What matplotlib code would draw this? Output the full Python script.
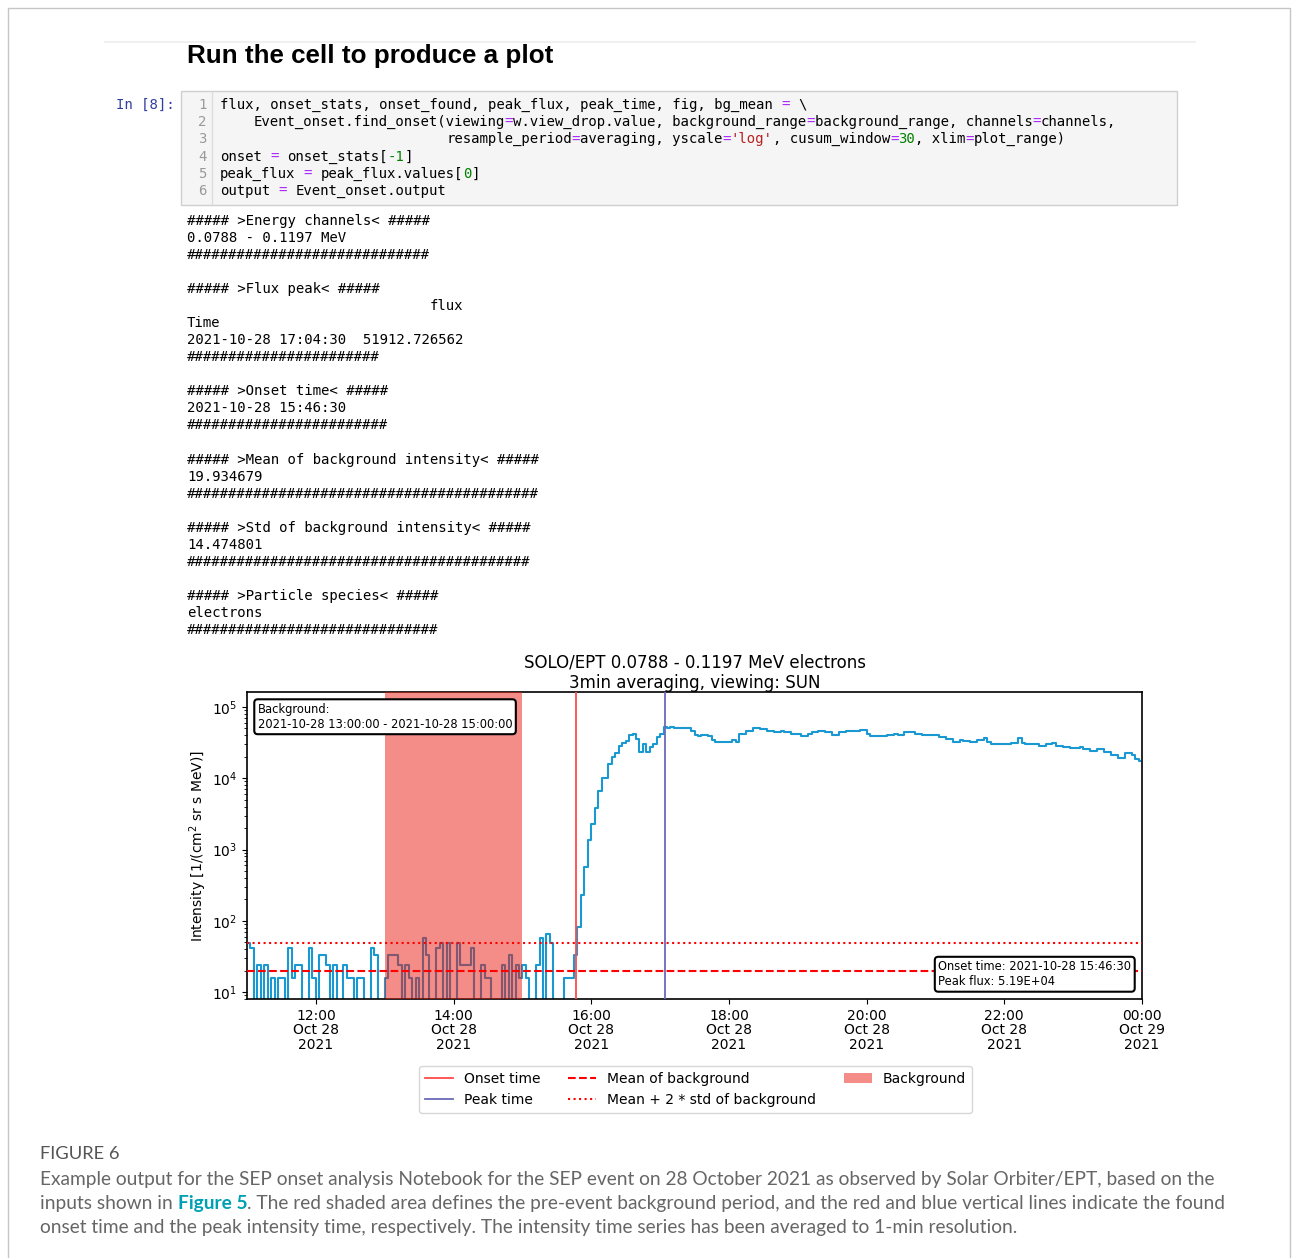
import matplotlib
matplotlib.use('Agg')
import matplotlib.pyplot as plt
import matplotlib.dates as mdates
from matplotlib.lines import Line2D
from matplotlib.patches import Patch, Rectangle
from matplotlib import font_manager
import numpy as np

W, H = 1292, 1258

# 3-min averaged SOLO/EPT electron intensity
# first bin centred at 11:01:30, one value every 3 minutes up to 00:00
t_first = np.datetime64('2021-10-28T11:01:30')
pre_event = [49, 41, 0, 24, 0, 24, 0, 16, 0, 16,
             16, 0, 41, 16, 24, 24, 0, 0, 41, 16,
             0, 33, 33, 24, 0, 24, 0, 0, 24, 16,
             16, 0, 16, 16, 0, 0, 41, 33, 0, 0,
             16, 33, 33, 33, 24, 0, 24, 16, 0, 16,
             0, 57, 33, 0, 0, 41, 49, 0, 49, 0,
             0, 49, 24, 24, 24, 41, 0, 0, 24, 16,
             16, 0, 0, 0, 24, 0, 33, 0, 24, 16,
             24, 16, 0, 0, 24, 57, 0, 66, 49, 0,
             0, 0, 16, 16, 16, 33]
rise = [82, 229, 571, 1350, 2270, 3850, 6600, 10100, 10100, 15800,
        20000, 22800, 28000, 31500, 33500, 40000, 42000, 36000, 23400, 30000,
        23400, 27000, 30000, 38000, 42000, 51900]
decay = [51000, 51500, 51000, 50800, 50500, 50100, 50100, 45800,
         40500, 38500, 40000, 40400, 39400, 34700, 32300, 32000, 32000, 32000,
         32300, 34700, 32000, 41900, 41900, 45800, 45800, 49900, 49900, 48900,
         48900, 45800, 45800, 43900, 43900, 45800, 43900, 43900, 41900, 41900,
         41900, 39400, 39400, 41900, 44900, 44900, 45800, 45800, 43900, 43900,
         40400, 40400, 43900, 43900, 46300, 46300, 46300, 46300, 47400, 47400,
         41900, 39400, 39400, 39400, 39400, 39400, 40400, 40400, 41900, 40800,
         40800, 44900, 43900, 43900, 41900, 41900, 40800, 40800, 40400, 40400,
         40400, 38000, 38000, 35500, 35500, 32300, 32300, 34700, 33800, 33800,
         32300, 32300, 34700, 34700, 36800, 32300, 29800, 29800, 29800, 29800,
         30500, 30500, 31200, 31200, 36800, 31200, 29800, 29800, 29800, 29800,
         28700, 28700, 29800, 29800, 31200, 28700, 28700, 27700, 27700, 26400,
         26400, 26400, 27700, 25700, 25700, 23900, 23900, 25700, 25700, 23300,
         23300, 21500, 21500, 19500, 19500, 22400, 22400, 21000, 18500, 17500]
intensity = np.array(pre_event + rise + decay, dtype=float)
times = t_first + np.arange(len(intensity)) * np.timedelta64(3, 'm')

bg_start = np.datetime64('2021-10-28T13:00:00')
bg_end = np.datetime64('2021-10-28T15:00:00')
onset_time = np.datetime64('2021-10-28T15:46:30')
peak_time = np.datetime64('2021-10-28T17:04:30')
bg_mean = 19.934679
bg_std = 14.474801
x_range = (np.datetime64('2021-10-28T11:00:00'), np.datetime64('2021-10-29T00:00:00'))

code_lines = [
    [("flux, onset_stats, onset_found, peak_flux, peak_time, fig, bg_mean ", 'k'), ("=", 'm'), (" \\", 'k')],
    [("    Event_onset.find_onset(viewing", 'k'), ("=", 'm'), ("w.view_drop.value, background_range", 'k'),
     ("=", 'm'), ("background_range, channels", 'k'), ("=", 'm'), ("channels,", 'k')],
    [(" " * 27 + "resample_period", 'k'), ("=", 'm'), ("averaging, yscale", 'k'), ("=", 'm'), ("'log'", 'r'),
     (", cusum_window", 'k'), ("=", 'm'), ("30", 'g'), (", xlim", 'k'), ("=", 'm'), ("plot_range)", 'k')],
    [("onset ", 'k'), ("=", 'm'), (" onset_stats[", 'k'), ("-1", 'g'), ("]", 'k')],
    [("peak_flux ", 'k'), ("=", 'm'), (" peak_flux.values[", 'k'), ("0", 'g'), ("]", 'k')],
    [("output ", 'k'), ("=", 'm'), (" Event_onset.output", 'k')],
]
output_lines = [
    "##### >Energy channels< #####",
    "0.0788 - 0.1197 MeV",
    "#" * 29,
    "",
    "##### >Flux peak< #####",
    " " * 29 + "flux",
    "Time",
    "2021-10-28 17:04:30  51912.726562",
    "#" * 23,
    "",
    "##### >Onset time< #####",
    "2021-10-28 15:46:30",
    "#" * 24,
    "",
    "##### >Mean of background intensity< #####",
    "19.934679",
    "#" * 42,
    "",
    "##### >Std of background intensity< #####",
    "14.474801",
    "#" * 41,
    "",
    "##### >Particle species< #####",
    "electrons",
    "#" * 30,
]
caption_title = "FIGURE 6"
caption_lines = [
    [("Example output for the SEP onset analysis Notebook for the SEP event on 28 October 2021 "
      "as observed by Solar Orbiter/EPT, based on the", False)],
    [("inputs shown in", False), (" ", False), ("Figure 5", True),
     (". The red shaded area defines the pre-event background period, and the red and blue "
      "vertical lines indicate the found", False)],
    [("onset time and the peak intensity time, respectively. The intensity time series has been "
      "averaged to 1-min resolution.", False)],
]

code_colors = {'k': '#000000', 'm': '#AA22FF', 'g': '#008000', 'r': '#BA2121'}


def fx(x):
    return x / W


def fy(y):
    return 1 - y / H


def first_font(names):
    for n in names:
        try:
            font_manager.findfont(n, fallback_to_default=False)
            return n
        except Exception:
            pass
    return 'DejaVu Sans'


fig = plt.figure(figsize=(W / 100, H / 100), dpi=100)
renderer = fig.canvas.get_renderer()


def text_w(s, **kw):
    p = fig.text(0, 0, s, **kw)
    w = p.get_window_extent(renderer).width
    p.remove()
    return w


# monospace size chosen so one character advances 8.45 px, as in the screenshot
mono = 'DejaVu Sans Mono'
mono_size = 10 * 8.45 * 100 / text_w("x" * 100, family=mono, fontsize=10)
cw = (text_w("x" * 101, family=mono, fontsize=mono_size)
      - text_w("x", family=mono, fontsize=mono_size)) / 100


def mono_text(x, y, col, text, color, ha='left'):
    # place text so its first character sits in column `col`, allowing for the glyph's side bearing
    stripped = text.lstrip(' ')
    col += len(text) - len(stripped)
    kw = dict(family=mono, fontsize=mono_size)
    lb = text_w(" " + stripped, **kw) - cw - text_w(stripped, **kw)
    fig.text(fx(x + col * cw + lb), fy(y), stripped, color=color, ha='left', va='center', **kw)


narrow = first_font(['Liberation Sans Narrow', 'Lato', 'Roboto', 'Open Sans'])

# page frame and notebook decorations
fig.add_artist(Rectangle((fx(8), fy(1262)), fx(1290) - fx(8), fy(8) - fy(1262),
                         transform=fig.transFigure, fill=False, ec='#c6c6c6', lw=1))
fig.add_artist(Line2D([fx(105), fx(1195)], [fy(42), fy(42)], color='#f0f0f0', lw=1.5))
fig.text(fx(187), fy(56), "Run the cell to produce a plot", fontsize=18.7, fontweight='bold',
         family='Liberation Sans', ha='left', va='center')

mono_text(116, 105, 0, "In [8]:", '#303F9F')
fig.add_artist(Rectangle((fx(181), fy(205)), (1177 - 181) / W, (205 - 91) / H,
                         transform=fig.transFigure, fc='#f5f5f5', ec='#cfcfcf', lw=1))
fig.add_artist(Line2D([fx(212), fx(212)], [fy(92), fy(204)], color='#dddddd', lw=1))

for i, segs in enumerate(code_lines):
    y = 105 + 17.2 * i
    mono_text(198, y, 0, str(i + 1), '#999999')
    col = 0
    for txt, c in segs:
        if txt.strip():
            mono_text(220, y, col, txt.rstrip(' '), code_colors[c])
        col += len(txt)

for i, line in enumerate(output_lines):
    if line:
        mono_text(187, 221 + 17.04 * i, 0, line, 'black')

# ---- the plot ----
t_num = mdates.date2num(times)
ax = fig.add_axes([fx(247), fy(999), (1142 - 247) / W, (999 - 692) / H])
ax.set_yscale('log', nonpositive='clip')

blue = '#1a98d2'
onset_c = '#ff4a4a'
peak_c = '#6a6ab8'
bg_c = '#ea1a10'

ax.step(t_num, intensity, where='mid', color=blue, lw=1.5, zorder=2)
ax.axvspan(mdates.date2num(bg_start), mdates.date2num(bg_end), color=bg_c, alpha=0.5, lw=0, zorder=3)
ax.axvline(mdates.date2num(onset_time), color=onset_c, lw=1.3, zorder=4)
ax.axvline(mdates.date2num(peak_time), color=peak_c, lw=1.3, zorder=4)
ax.axhline(bg_mean, color='red', ls='--', lw=1.5, zorder=4)
ax.axhline(bg_mean + 2 * bg_std, color='red', ls=':', lw=1.5, zorder=4)

ax.set_xlim(mdates.date2num(x_range[0]), mdates.date2num(x_range[1]))
ax.set_ylim(8.0, 1.62e5)
ax.xaxis.set_major_locator(mdates.HourLocator(byhour=range(0, 24, 2)))
ax.xaxis.set_major_formatter(mdates.DateFormatter('%H:%M\n%b %d\n%Y'))
ax.tick_params(labelsize=10)
for s in ax.spines.values():
    s.set_linewidth(1.2)

ax.set_title("SOLO/EPT 0.0788 - 0.1197 MeV electrons\n3min averaging, viewing: SUN", fontsize=12, pad=3)
ax.set_ylabel("Intensity [1/(cm$^2$ sr s MeV)]", fontsize=10, labelpad=2)

box = dict(boxstyle='round,pad=0.3', fc='white', ec='black', lw=1.5)
ax.text(0.012, 0.965, "Background:\n2021-10-28 13:00:00 - 2021-10-28 15:00:00", transform=ax.transAxes,
        fontsize=8.3, ha='left', va='top', bbox=box, zorder=6)
ax.text(0.988, 0.035, "Onset time: 2021-10-28 15:46:30\nPeak flux: 5.19E+04", transform=ax.transAxes,
        fontsize=8.3, ha='right', va='bottom', multialignment='left', bbox=box, zorder=6)

handles = [
    Line2D([], [], color=onset_c, lw=1.3, label='Onset time'),
    Line2D([], [], color=peak_c, lw=1.3, label='Peak time'),
    Line2D([], [], color='red', ls='--', lw=1.5, label='Mean of background'),
    Line2D([], [], color='red', ls=':', lw=1.5, label='Mean + 2 * std of background'),
    Patch(color=bg_c, alpha=0.5, lw=0, label='Background'),
]
ax.legend(handles=handles, ncol=3, loc='center', bbox_to_anchor=(fx(695.5), fy(1089.5)),
          bbox_transform=fig.transFigure, fontsize=10)

fig.canvas.draw()
for lbl in ax.get_xticklabels():
    lbl.set_linespacing(1.05)

# ---- caption ----
t = fig.text(fx(40), fy(1154), caption_title, family=narrow, fontsize=12, color='#555555',
             ha='left', va='center')
t.set_fontsize(12 * 80 / t.get_window_extent(renderer).width)

cap_size = 12 * 1179 / text_w(caption_lines[0][0][0], family=narrow, fontsize=12)
space_w = (text_w("a a", family=narrow, fontsize=cap_size)
           - text_w("aa", family=narrow, fontsize=cap_size))
for i, segs in enumerate(caption_lines):
    x = 40
    y = 1179 + 24 * i
    for txt, link in segs:
        if txt == " ":
            x += space_w
            continue
        tt = fig.text(fx(x), fy(y), txt, family=narrow, fontsize=cap_size,
                      color='#00A0B4' if link else '#666666',
                      fontweight='bold' if link else 'normal', ha='left', va='center')
        x += tt.get_window_extent(renderer).width

fig.savefig('out.png', dpi=100)
